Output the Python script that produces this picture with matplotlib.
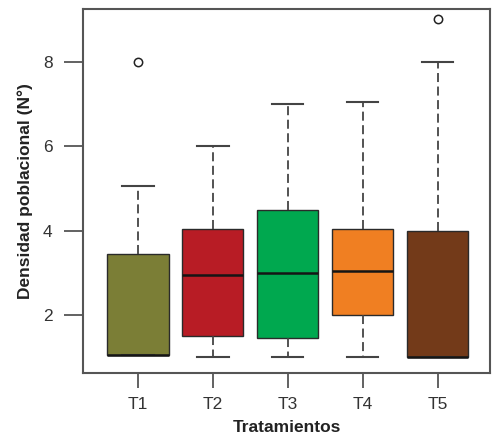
"""Boxplot of population density by treatment."""

from matplotlib import pyplot as plt

treatments = ['T1', 'T2', 'T3', 'T4', 'T5']
q1 = [1.05, 1.5, 1.45, 2.0, 1.0]
medians = [1.05, 2.95, 3.0, 3.05, 1.0]
q3 = [3.45, 4.05, 4.5, 4.05, 4.0]
whisker_low = [1.05, 1.0, 1.0, 1.0, 1.0]
whisker_high = [5.05, 6.0, 7.0, 7.05, 8.0]
outliers = [[8.0], [], [], [], [9.0]]
colors = ['#7b7e36', '#b81c25', '#00a84f', '#f07f22', '#733a19']


def build_stats():
    """Collect the box statistics in the form bxp wants."""
    stats = []
    for i, name in enumerate(treatments):
        stats.append({
            'label': name, 'q1': q1[i], 'med': medians[i], 'q3': q3[i],
            'whislo': whisker_low[i], 'whishi': whisker_high[i],
            'fliers': outliers[i],
        })
    return stats


def plot_boxes():
    """Draw the chart and save it."""
    plt.rcParams['font.family'] = ['Liberation Sans', 'DejaVu Sans']
    fig = plt.figure(figsize=(5.01, 4.43), dpi=100)
    ax = fig.add_axes([0.166, 0.158, 0.812, 0.822])
    edge = '#2a2a2a'
    parts = ax.bxp(
        build_stats(), positions=range(1, 6), widths=0.82,
        patch_artist=True,
        boxprops={'edgecolor': edge, 'linewidth': 1.0},
        medianprops={'color': '#151515', 'linewidth': 1.8},
        whiskerprops={'color': '#444444', 'linewidth': 1.3,
                      'linestyle': (0, (5, 2.5))},
        capprops={'color': '#444444', 'linewidth': 1.5},
        capwidths=0.42,
        flierprops={'marker': 'o', 'markersize': 6,
                    'markerfacecolor': 'none',
                    'markeredgecolor': '#222222', 'markeredgewidth': 1.1},
    )
    for box, color in zip(parts['boxes'], colors):
        box.set_facecolor(color)

    ax.set_xlim(0.27, 5.7)
    ax.set_ylim(0.63, 9.25)
    ax.set_yticks([2, 4, 6, 8])
    ax.set_xticks(range(1, 6), treatments)
    for spine in ax.spines.values():
        spine.set_color('#555555')
        spine.set_linewidth(1.5)
    ax.tick_params(colors='#555555', width=1.3, length=11, pad=6,
                   labelcolor='#333333', labelsize=12.5)
    ax.tick_params(axis='y', length=14, pad=8)
    ax.set_xlabel('Tratamientos', fontsize=12.5, fontweight='bold',
                  color='#222222', labelpad=6)
    ax.set_ylabel('Densidad poblacional (N°)', fontsize=12.5,
                  fontweight='bold', color='#222222', labelpad=7)
    fig.savefig('out.png', dpi=100)


if __name__ == '__main__':
    plot_boxes()
